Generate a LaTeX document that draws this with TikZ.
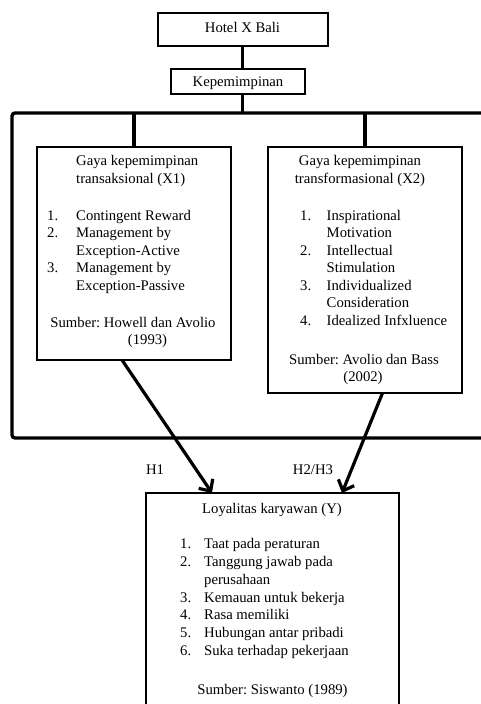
\documentclass[tikz,border=0pt]{standalone}
\usepackage{fontspec}
\setmainfont{Liberation Serif}
\usetikzlibrary{arrows.meta}
\frenchspacing

\tikzset{
  box/.style={draw, line width=1.4pt, inner sep=0pt, outer sep=0pt},
  tx/.style={inner sep=0pt, anchor=base},
  lt/.style={inner sep=0pt, anchor=base west},
  link/.style={line width=3.2pt},
  hyp/.style={line width=3.2pt, -{Straight Barb[length=9pt,width=17pt]}},
}

\begin{document}
\begin{tikzpicture}[x=1pt,y=-1pt,font=\fontsize{14.7}{17.6}\selectfont]
\useasboundingbox (0,0) rectangle (481,704);
\clip (0,0) rectangle (481,704);
% boxes
\node[box, line width=2pt, minimum width=170pt, minimum height=33pt] (hotel) at (242.5,29.5) {};
\node[box, line width=2pt, minimum width=134pt, minimum height=25pt] (kep) at (238,81.5) {};
\node[box, line width=3.4pt, rounded corners=3pt, minimum width=488pt, minimum height=325pt] (frame) at (256,275.5) {};
\node[box, minimum width=194pt, minimum height=213pt] (x1) at (134,253.5) {};
\node[box, minimum width=194pt, minimum height=246pt] (x2) at (365,270) {};
\node[box, minimum width=253pt, minimum height=250pt] (y) at (272.5,618) {};
% texts
\node[tx] (hoteltx) at (242.5,32.5) {Hotel X Bali};
\node[tx] (keptx) at (238,86.5) {Kepemimpinan};
\node[lt] (x1t1) at (76,165) {Gaya kepemimpinan};
\node[lt] (x1t2) at (76,183) {transaksional (X1)};
\node[lt] (x1n1) at (47,220) {1.};
\node[lt] (x1a) at (76,220) {Contingent Reward};
\node[lt] (x1n2) at (47,237.5) {2.};
\node[lt] (x1b) at (76,237.5) {Management by};
\node[lt] (x1b2) at (76,255) {Exception-Active};
\node[lt] (x1n3) at (47,272.5) {3.};
\node[lt] (x1c) at (76,272.5) {Management by};
\node[lt] (x1c2) at (76,290) {Exception-Passive};
\node[tx] (x1s) at (133,327) {Sumber: Howell dan Avolio};
\node[tx] (x1s2) at (147.5,344.5) {(1993)};
\node[tx] (x2t1) at (360,165) {Gaya kepemimpinan};
\node[tx] (x2t2) at (360,183) {transformasional (X2)};
\node[lt] (x2n1) at (300,220) {1.};
\node[lt] (x2a) at (326.5,220) {Inspirational};
\node[lt] (x2a2) at (326.5,237.5) {Motivation};
\node[lt] (x2n2) at (300,255) {2.};
\node[lt] (x2b) at (326.5,255) {Intellectual};
\node[lt] (x2b2) at (326.5,272.5) {Stimulation};
\node[lt] (x2n3) at (300,290) {3.};
\node[lt] (x2c) at (326.5,290) {Individualized};
\node[lt] (x2c2) at (326.5,307.5) {Consideration};
\node[lt] (x2n4) at (300,325.5) {4.};
\node[lt] (x2d) at (326.5,325.5) {Idealized Infxluence};
\node[tx] (x2s) at (364,364) {Sumber: Avolio dan Bass};
\node[tx] (x2s2) at (363,381.5) {(2002)};
\node[tx] (h1) at (155,474.5) {H1};
\node[tx] (h2) at (313,474) {H2/H3};
\node[tx] (yt) at (272,513) {Loyalitas karyawan (Y)};
\node[lt] (yn1) at (180,548) {1.};
\node[lt] (ya) at (204,548) {Taat pada peraturan};
\node[lt] (yn2) at (180,566) {2.};
\node[lt] (yb) at (204,566) {Tanggung jawab pada};
\node[lt] (yb2) at (204,584) {perusahaan};
\node[lt] (yn3) at (180,602) {3.};
\node[lt] (yc) at (204,602) {Kemauan untuk bekerja};
\node[lt] (yn4) at (180,619.5) {4.};
\node[lt] (yd) at (204,619.5) {Rasa memiliki};
\node[lt] (yn5) at (180,637.5) {5.};
\node[lt] (ye) at (204,637.5) {Hubungan antar pribadi};
\node[lt] (yn6) at (180,655.5) {6.};
\node[lt] (yf) at (204,655.5) {Suka terhadap pekerjaan};
\node[tx] (ys) at (272.5,694) {Sumber: Siswanto (1989)};
% links
\draw[link] (hotel.south) -- (hotel.south |- kep.north);
\draw[link] (hotel.south |- kep.south) -- (hotel.south |- frame.north);
\draw[link] (x1.north |- frame.north) -- (x1.north);
\draw[link] (x2.north |- frame.north) -- (x2.north);
\draw[hyp] ([xshift=-12pt]x1.south) -- ([xshift=-60.5pt]y.north);
\draw[hyp] ([xshift=17.5pt]x2.south) -- ([xshift=69.5pt]y.north);
\end{tikzpicture}
\end{document}
